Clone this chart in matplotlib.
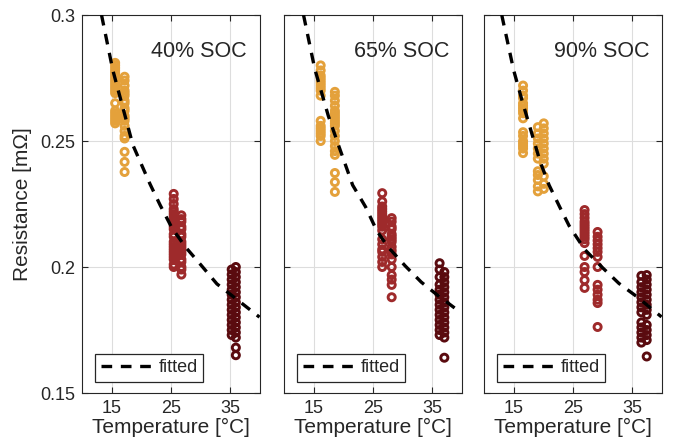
import matplotlib
matplotlib.use('Agg')
import matplotlib.pyplot as plt

plt.rcParams['font.family'] = ['Liberation Sans', 'DejaVu Sans']

soc_labels = ['40% SOC', '65% SOC', '90% SOC']

orange = '#E4A13B'
red = '#9E2A2B'
dark = '#5A0B0F'

# scatter columns: (temperature, resistances, colour key)
p1_cols = [
    (15.6, [0.281, 0.280, 0.279, 0.278, 0.277, 0.276, 0.275, 0.274, 0.273, 0.272, 0.271, 0.270,
            0.269, 0.265, 0.262, 0.261, 0.260, 0.259, 0.258, 0.257], 'o'),
    (17.2, [0.2755, 0.274, 0.272, 0.270, 0.269, 0.268, 0.266, 0.265, 0.263, 0.262, 0.260, 0.259,
            0.258, 0.256, 0.254, 0.252, 0.251, 0.2457, 0.2417, 0.2377], 'o'),
    (25.5, [0.229, 0.227, 0.225, 0.223, 0.222, 0.221, 0.220, 0.219, 0.218, 0.217, 0.216, 0.215,
            0.213, 0.212, 0.210, 0.209, 0.208, 0.207, 0.206, 0.205, 0.204, 0.203, 0.201, 0.200], 'r'),
    (26.8, [0.2205, 0.219, 0.218, 0.216, 0.215, 0.213, 0.212, 0.210, 0.209, 0.208, 0.207, 0.206,
            0.205, 0.203, 0.202, 0.200, 0.199, 0.197], 'r'),
    (35.3, [0.199, 0.197, 0.195, 0.193, 0.191, 0.189, 0.187, 0.185, 0.183, 0.181, 0.179, 0.177,
            0.175, 0.173], 'd'),
    (36.0, [0.200, 0.198, 0.196, 0.194, 0.192, 0.190, 0.188, 0.186, 0.184, 0.182, 0.180, 0.178,
            0.176, 0.174, 0.172, 0.168, 0.165], 'd'),
]
p2_cols = [
    (16.2, [0.280, 0.278, 0.276, 0.275, 0.274, 0.273, 0.272, 0.271, 0.270, 0.268, 0.258, 0.256,
            0.255, 0.254, 0.253, 0.252, 0.250], 'o'),
    (18.6, [0.2695, 0.268, 0.266, 0.264, 0.262, 0.261, 0.260, 0.259, 0.258, 0.257, 0.256, 0.254,
            0.252, 0.250, 0.248, 0.246, 0.2445, 0.2373, 0.2337, 0.2298], 'o'),
    (26.6, [0.2293, 0.226, 0.224, 0.223, 0.222, 0.221, 0.220, 0.219, 0.218, 0.217, 0.216, 0.2145,
            0.211, 0.209, 0.207, 0.206, 0.204, 0.202, 0.200], 'r'),
    (28.2, [0.2194, 0.218, 0.216, 0.215, 0.213, 0.212, 0.211, 0.210, 0.208, 0.2065, 0.205, 0.203,
            0.200, 0.1968, 0.195, 0.1929, 0.188], 'r'),
    (36.3, [0.2015, 0.199, 0.196, 0.193, 0.191, 0.189, 0.187, 0.185, 0.183, 0.181, 0.179, 0.177,
            0.175, 0.173], 'd'),
    (37.1, [0.198, 0.196, 0.194, 0.192, 0.190, 0.188, 0.186, 0.184, 0.182, 0.180, 0.178, 0.176,
            0.174, 0.172, 0.164], 'd'),
]
p3_cols = [
    (16.6, [0.272, 0.270, 0.268, 0.267, 0.265, 0.264, 0.263, 0.262, 0.261, 0.259, 0.2535, 0.252,
            0.250, 0.249, 0.248, 0.247, 0.2452], 'o'),
    (19.1, [0.2555, 0.253, 0.251, 0.249, 0.247, 0.245, 0.243, 0.238, 0.2365, 0.2345, 0.232, 0.230], 'o'),
    (20.1, [0.257, 0.255, 0.253, 0.251, 0.249, 0.247, 0.245, 0.243, 0.241, 0.236, 0.233, 0.231], 'o'),
    (27.0, [0.2226, 0.221, 0.2195, 0.218, 0.217, 0.216, 0.215, 0.214, 0.213, 0.212, 0.211, 0.2095,
            0.2044, 0.200, 0.198, 0.1948, 0.1917], 'r'),
    (29.2, [0.2139, 0.212, 0.2105, 0.209, 0.2075, 0.206, 0.204, 0.200, 0.1929, 0.191, 0.189, 0.187,
            0.1857, 0.1762], 'r'),
    (36.6, [0.1965, 0.194, 0.192, 0.190, 0.188, 0.186, 0.184, 0.182, 0.178, 0.176, 0.174, 0.172,
            0.170], 'd'),
    (37.5, [0.1968, 0.195, 0.193, 0.191, 0.189, 0.187, 0.185, 0.183, 0.181, 0.177, 0.175, 0.173,
            0.171, 0.1645], 'd'),
]

# fitted curves
fit1_T = [13.3, 15.2, 18.6, 21.5, 23.2, 25.2, 27.5, 30.1, 32.8, 36.3, 40.0]
fit1_R = [0.300, 0.2782, 0.2484, 0.2329, 0.2246, 0.2155, 0.2079, 0.2008, 0.1933, 0.1869, 0.1801]
fit2_T = [13.3, 15.2, 17.5, 19.2, 21.6, 23.8, 25.7, 27.6, 30.5, 33.2, 35.9, 40.0]
fit2_R = [0.300, 0.2786, 0.2599, 0.2484, 0.2325, 0.2238, 0.2143, 0.2079, 0.2004, 0.1940, 0.1889, 0.1817]
fit3_T = [13.0, 15.0, 16.4, 19.5, 21.0, 22.8, 24.4, 27.0, 30.0, 32.8, 35.8, 40.0]
fit3_R = [0.300, 0.2782, 0.2663, 0.2417, 0.2325, 0.2238, 0.2163, 0.2070, 0.1998, 0.1935, 0.1883, 0.1802]

xticks = [15, 25, 35]
yticks = [0.15, 0.2, 0.25, 0.3]
ytick_labels = ['0.15', '0.2', '0.25', '0.3']

colors = {'o': orange, 'r': red, 'd': dark}
panels = [(p1_cols, fit1_T, fit1_R), (p2_cols, fit2_T, fit2_R), (p3_cols, fit3_T, fit3_R)]
lefts = [82, 284, 484]
W, H = 673, 447
txt = '#262626'

fig = plt.figure(figsize=(W / 100, H / 100), dpi=100)

for i, (cols, fT, fR) in enumerate(panels):
    ax = fig.add_axes([lefts[i] / W, (H - 393) / H, 177.5 / W, 378 / H])
    for T, Rs, c in cols:
        ax.scatter([T] * len(Rs), Rs, s=26, facecolors='none', edgecolors=colors[c],
                   linewidths=2.1, zorder=3)
    ax.plot(fT, fR, color='black', lw=2.4, ls=(0, (3.2, 2.6)), zorder=4, label='fitted')
    ax.set_xlim(10, 40)
    ax.set_ylim(0.15, 0.3)
    ax.set_xticks(xticks)
    ax.set_yticks(yticks)
    if i == 0:
        ax.set_yticklabels(ytick_labels)
        ax.set_ylabel('Resistance [m\u03a9]', fontsize=15, color=txt, labelpad=6)
    else:
        ax.set_yticklabels([])
    ax.set_xlabel('Temperature [\u00b0C]', fontsize=15, color=txt, labelpad=1)
    ax.grid(True, color='#dddddd', lw=0.8, zorder=0)
    ax.set_axisbelow(True)
    ax.tick_params(direction='in', length=4, width=0.8, top=True, right=True,
                   labelsize=13, colors=txt, pad=5)
    for sp in ax.spines.values():
        sp.set_color(txt)
        sp.set_linewidth(0.8)
    ax.text(0.93, 0.93, soc_labels[i], transform=ax.transAxes, ha='right', va='top',
            fontsize=15.5, color=txt)
    leg = ax.legend(loc='lower left', bbox_to_anchor=(0.075, 0.03), fontsize=13,
                    fancybox=False, framealpha=1, edgecolor=txt, handlelength=3.0,
                    handletextpad=0.2, borderpad=0.3, borderaxespad=0)
    leg.get_frame().set_linewidth(0.9)
    for t in leg.get_texts():
        t.set_color(txt)

fig.savefig('out.png', dpi=100, facecolor='white')
